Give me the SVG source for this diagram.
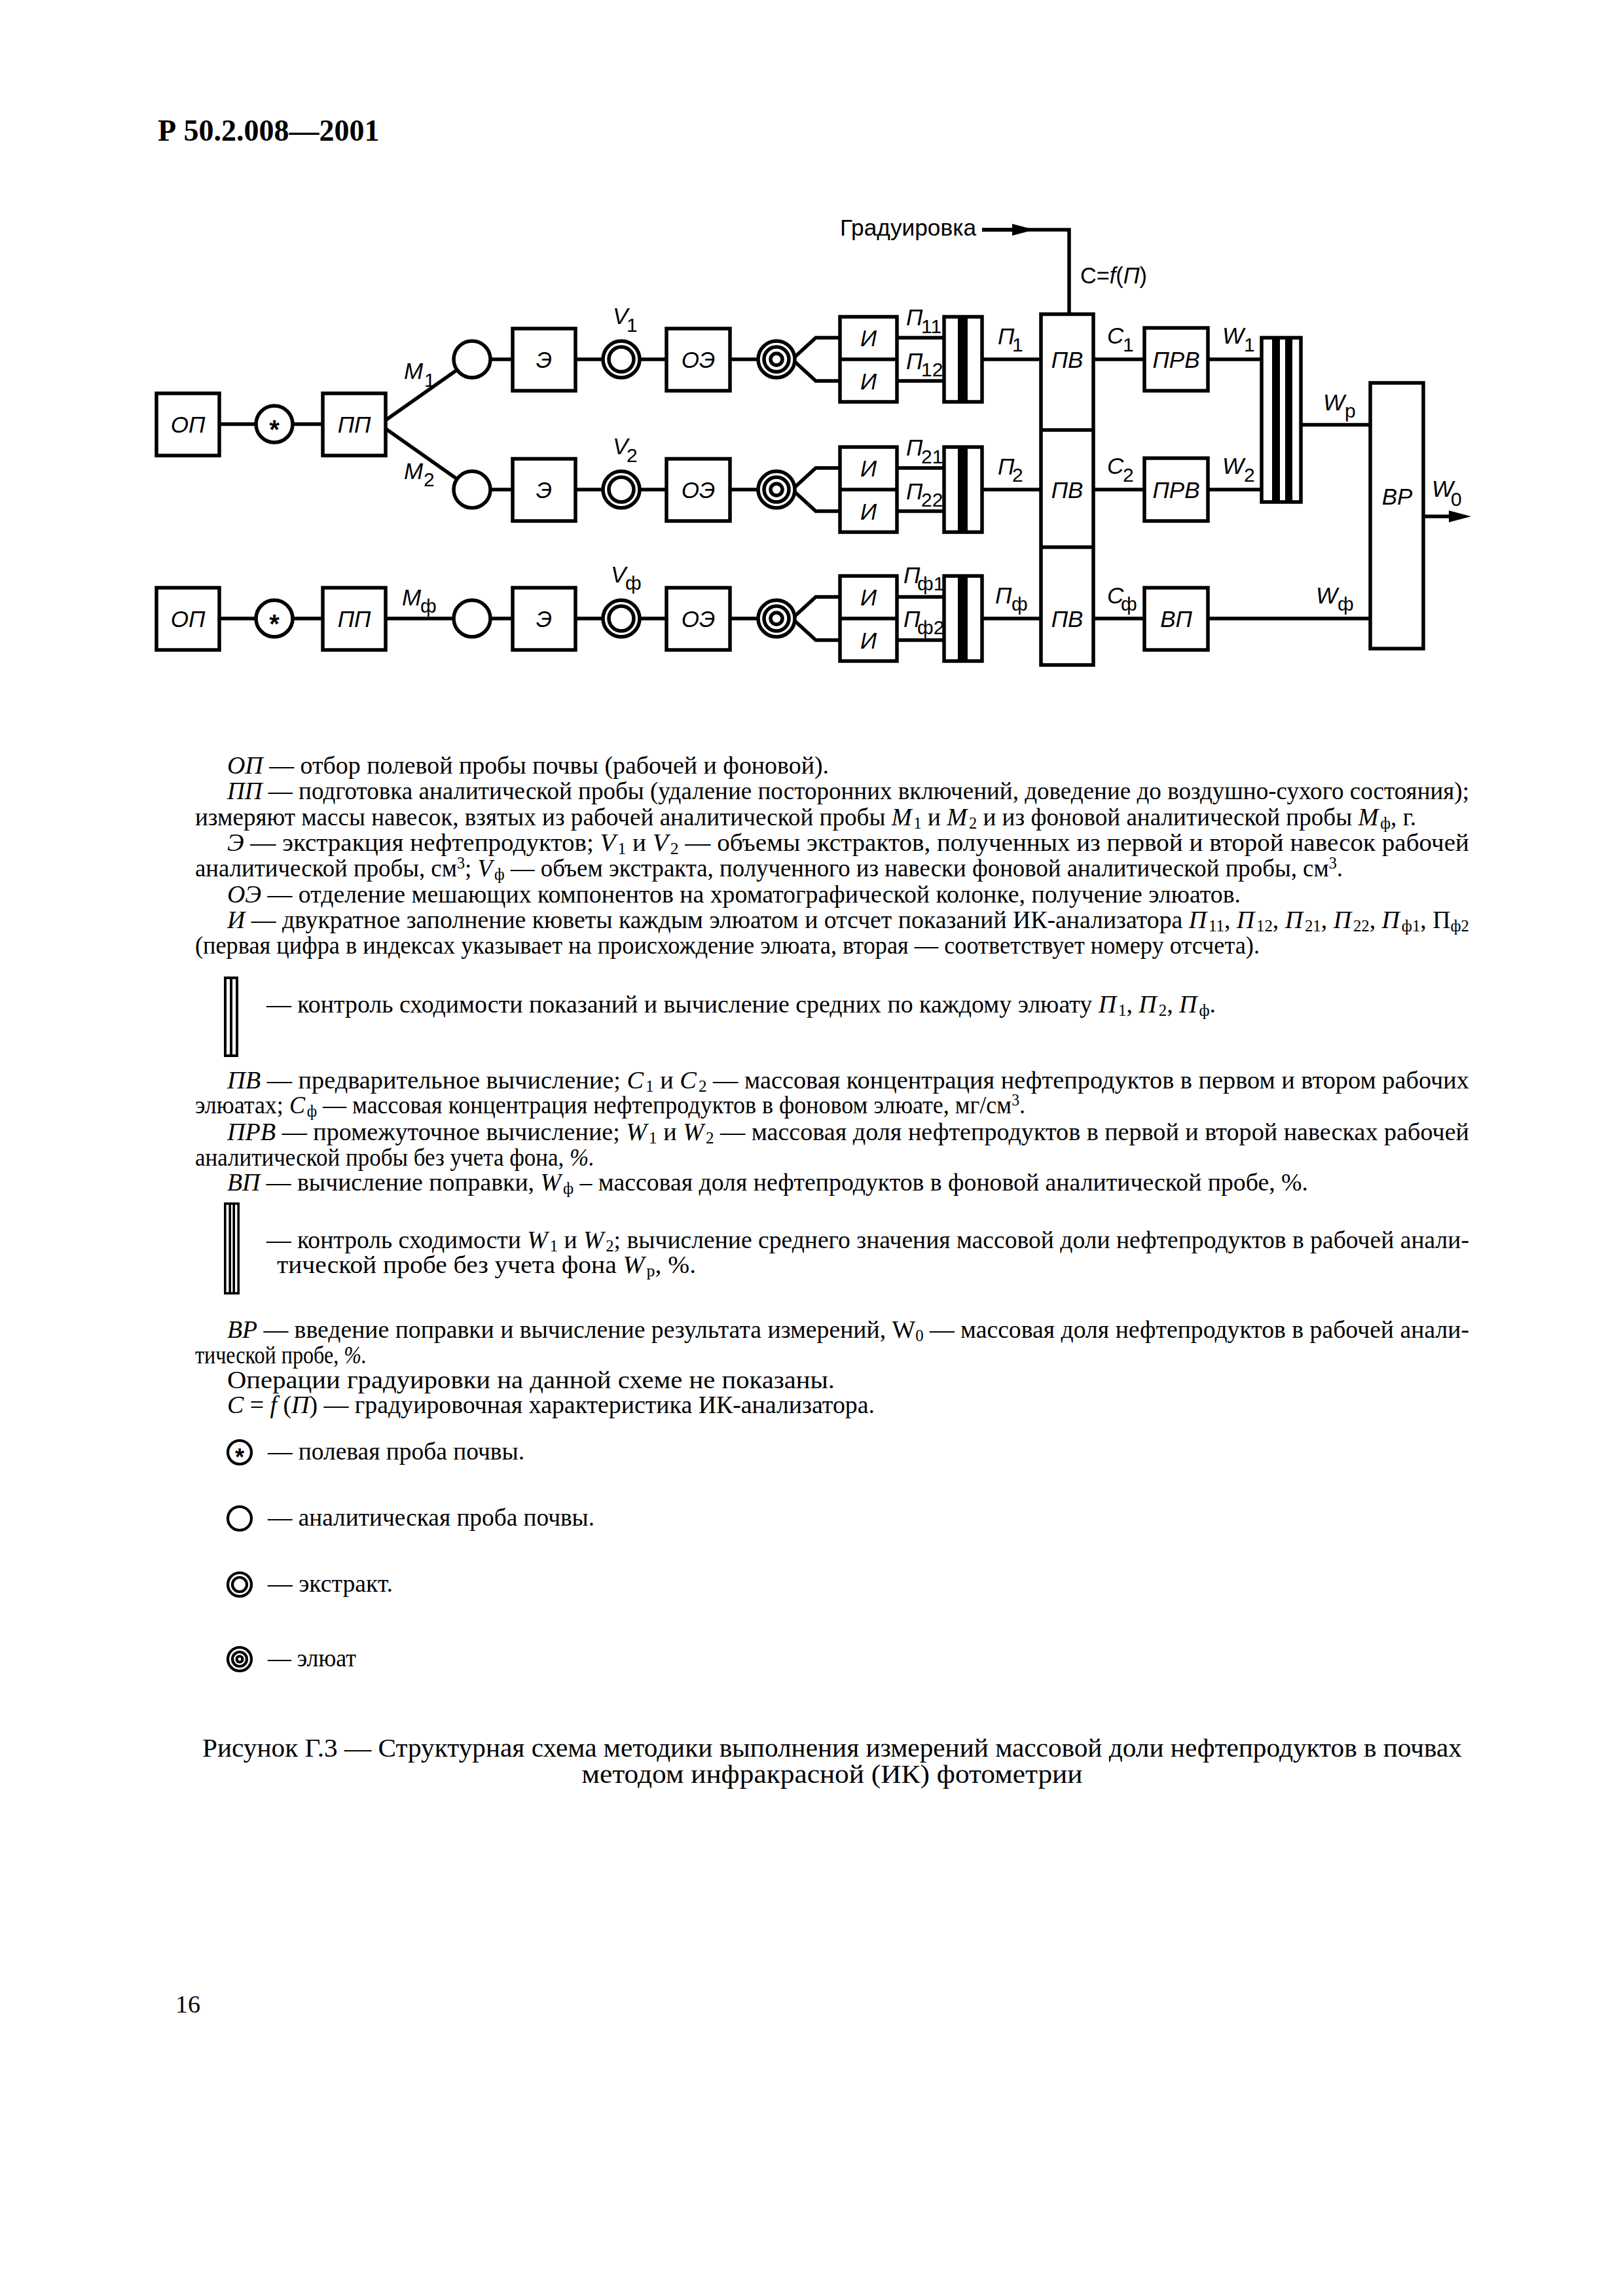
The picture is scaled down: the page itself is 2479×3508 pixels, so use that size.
<svg xmlns="http://www.w3.org/2000/svg" width="2479" height="3508" viewBox="0 0 2479 3508">
<style>
.bx{fill:#fff;stroke:#000;stroke-width:5.5}
.ln{fill:none;stroke:#000;stroke-width:5.5}
.ci{fill:#fff;stroke:#000;stroke-width:5.5}
.cn{fill:none;stroke:#000;stroke-width:5.5}
.bk{fill:#000}
.nt{font-family:"Liberation Sans",Arial,sans-serif;font-size:35px;font-style:italic;text-anchor:middle;fill:#000}
.st{font-family:"Liberation Sans",Arial,sans-serif;font-size:40px;font-weight:bold;text-anchor:middle;fill:#000}
.lb{font-family:"Liberation Sans",Arial,sans-serif;font-size:35px;font-style:italic;fill:#000}
.ls{font-style:normal;font-size:30px}
.up{font-style:normal}
.tx{font-family:"Liberation Serif","Times New Roman",serif;font-size:38px;fill:#000}
.cap{font-family:"Liberation Serif","Times New Roman",serif;font-size:40px;fill:#000;text-anchor:middle}
.i{font-style:italic}
.sb{font-size:25px;font-style:normal}
.lg{fill:#fff;stroke:#000;stroke-width:4.2}
.lgn{fill:none;stroke:#000;stroke-width:4.2}
</style>
<defs>
<marker id="arr" viewBox="0 0 34 18" refX="16" refY="9" markerWidth="34" markerHeight="18" markerUnits="userSpaceOnUse" orient="auto"><path d="M0,0 L34,9 L0,18 Z" fill="#000"/></marker>
</defs>
<rect width="2479" height="3508" fill="#fff"/>

<text x="241" y="215" style="font-family:'Liberation Serif','Times New Roman',serif;font-size:46px;font-weight:bold">Р 50.2.008—2001</text>

<!-- connectors -->
<g id="connectors">
<line class="ln" x1="335" y1="648" x2="391" y2="648"/>
<line class="ln" x1="447" y1="648" x2="493" y2="648"/>
<line class="ln" x1="589" y1="642" x2="721" y2="549"/>
<line class="ln" x1="589" y1="655" x2="721" y2="748"/>
<line class="ln" x1="335" y1="945" x2="391" y2="945"/>
<line class="ln" x1="447" y1="945" x2="493" y2="945"/>
<line class="ln" x1="589" y1="945" x2="721" y2="945"/>
<line class="ln" x1="721" y1="549" x2="783" y2="549"/>
<line class="ln" x1="721" y1="748" x2="783" y2="748"/>
<line class="ln" x1="721" y1="945" x2="783" y2="945"/>
<line class="ln" x1="879" y1="549" x2="1018" y2="549"/>
<line class="ln" x1="879" y1="748" x2="1018" y2="748"/>
<line class="ln" x1="879" y1="945" x2="1018" y2="945"/>
<line class="ln" x1="1115" y1="549" x2="1186" y2="549"/>
<line class="ln" x1="1115" y1="748" x2="1186" y2="748"/>
<line class="ln" x1="1115" y1="945" x2="1186" y2="945"/>
<polyline class="ln" points="1210,549 1246,516 1283,516"/>
<polyline class="ln" points="1210,549 1246,582 1283,582"/>
<polyline class="ln" points="1210,748 1246,715 1283,715"/>
<polyline class="ln" points="1210,748 1246,781 1283,781"/>
<polyline class="ln" points="1210,945 1246,912 1283,912"/>
<polyline class="ln" points="1210,945 1246,978 1283,978"/>
<line class="ln" x1="1370" y1="516" x2="1442" y2="516"/>
<line class="ln" x1="1370" y1="582" x2="1442" y2="582"/>
<line class="ln" x1="1370" y1="715" x2="1442" y2="715"/>
<line class="ln" x1="1370" y1="781" x2="1442" y2="781"/>
<line class="ln" x1="1370" y1="912" x2="1442" y2="912"/>
<line class="ln" x1="1370" y1="978" x2="1442" y2="978"/>
<line class="ln" x1="1500" y1="549" x2="1590" y2="549"/>
<line class="ln" x1="1500" y1="748" x2="1590" y2="748"/>
<line class="ln" x1="1500" y1="945" x2="1590" y2="945"/>
<polyline class="ln" points="1500,351 1633,351 1633,480"/>
<line class="ln" x1="1500" y1="351" x2="1562" y2="351" marker-end="url(#arr)"/>
<line class="ln" x1="1670" y1="549" x2="1748" y2="549"/>
<line class="ln" x1="1670" y1="748" x2="1748" y2="748"/>
<line class="ln" x1="1670" y1="945" x2="1748" y2="945"/>
<line class="ln" x1="1845" y1="549" x2="1927" y2="549"/>
<line class="ln" x1="1845" y1="748" x2="1927" y2="748"/>
<line class="ln" x1="1987" y1="649" x2="2093" y2="649"/>
<line class="ln" x1="1845" y1="945" x2="2093" y2="945"/>
<line class="ln" x1="2174" y1="789" x2="2229" y2="789" marker-end="url(#arr)"/>
</g>

<!-- nodes -->
<g id="op1"><rect class="bx" x="239" y="601" width="96" height="95"/><text class="nt" x="287" y="661">ОП</text></g>
<g id="star1"><circle class="ci" cx="419" cy="648" r="28"/><text class="st" x="419" y="670">*</text></g>
<g id="pp1"><rect class="bx" x="493" y="601" width="96" height="95"/><text class="nt" x="541" y="661">ПП</text></g>
<g id="op3"><rect class="bx" x="239" y="898" width="96" height="95"/><text class="nt" x="287" y="958">ОП</text></g>
<g id="star3"><circle class="ci" cx="419" cy="945" r="28"/><text class="st" x="419" y="967">*</text></g>
<g id="pp3"><rect class="bx" x="493" y="898" width="96" height="95"/><text class="nt" x="541" y="958">ПП</text></g>

<g id="a1"><circle class="ci" cx="721" cy="549" r="28"/></g>
<g id="a2"><circle class="ci" cx="721" cy="748" r="28"/></g>
<g id="a3"><circle class="ci" cx="721" cy="945" r="28"/></g>

<g id="e1"><rect class="bx" x="783" y="502" width="96" height="95"/><text class="nt" x="831" y="562">Э</text></g>
<g id="e2"><rect class="bx" x="783" y="701" width="96" height="95"/><text class="nt" x="831" y="761">Э</text></g>
<g id="e3"><rect class="bx" x="783" y="898" width="96" height="95"/><text class="nt" x="831" y="958">Э</text></g>

<g id="v1"><circle class="ci" cx="949" cy="549" r="28"/><circle class="cn" cx="949" cy="549" r="19"/></g>
<g id="v2"><circle class="ci" cx="949" cy="748" r="28"/><circle class="cn" cx="949" cy="748" r="19"/></g>
<g id="v3"><circle class="ci" cx="949" cy="945" r="28"/><circle class="cn" cx="949" cy="945" r="19"/></g>

<g id="oe1"><rect class="bx" x="1018" y="502" width="97" height="95"/><text class="nt" x="1066.5" y="562">ОЭ</text></g>
<g id="oe2"><rect class="bx" x="1018" y="701" width="97" height="95"/><text class="nt" x="1066.5" y="761">ОЭ</text></g>
<g id="oe3"><rect class="bx" x="1018" y="898" width="97" height="95"/><text class="nt" x="1066.5" y="958">ОЭ</text></g>

<g id="el1"><circle class="ci" cx="1186" cy="549" r="28"/><circle class="cn" cx="1186" cy="549" r="19"/><circle class="cn" cx="1186" cy="549" r="9"/></g>
<g id="el2"><circle class="ci" cx="1186" cy="748" r="28"/><circle class="cn" cx="1186" cy="748" r="19"/><circle class="cn" cx="1186" cy="748" r="9"/></g>
<g id="el3"><circle class="ci" cx="1186" cy="945" r="28"/><circle class="cn" cx="1186" cy="945" r="19"/><circle class="cn" cx="1186" cy="945" r="9"/></g>

<g id="i1"><rect class="bx" x="1283" y="484" width="87" height="130"/><line class="ln" x1="1283" y1="549" x2="1370" y2="549"/><text class="nt" x="1326.5" y="529">И</text><text class="nt" x="1326.5" y="595">И</text></g>
<g id="i2"><rect class="bx" x="1283" y="683" width="87" height="130"/><line class="ln" x1="1283" y1="748" x2="1370" y2="748"/><text class="nt" x="1326.5" y="728">И</text><text class="nt" x="1326.5" y="794">И</text></g>
<g id="i3"><rect class="bx" x="1283" y="880" width="87" height="130"/><line class="ln" x1="1283" y1="945" x2="1370" y2="945"/><text class="nt" x="1326.5" y="925">И</text><text class="nt" x="1326.5" y="991">И</text></g>

<g id="b1"><rect class="bx" x="1442" y="484" width="58" height="130"/><rect class="bk" x="1463" y="484" width="15" height="130"/></g>
<g id="b2"><rect class="bx" x="1442" y="683" width="58" height="130"/><rect class="bk" x="1463" y="683" width="15" height="130"/></g>
<g id="b3"><rect class="bx" x="1442" y="880" width="58" height="130"/><rect class="bk" x="1463" y="880" width="15" height="130"/></g>

<g id="pv"><rect class="bx" x="1590" y="480" width="80" height="536"/><line class="ln" x1="1590" y1="657" x2="1670" y2="657"/><line class="ln" x1="1590" y1="836" x2="1670" y2="836"/><text class="nt" x="1630" y="562">ПВ</text><text class="nt" x="1630" y="761">ПВ</text><text class="nt" x="1630" y="958">ПВ</text></g>

<g id="prv1"><rect class="bx" x="1748" y="501" width="97" height="96"/><text class="nt" x="1796.5" y="562">ПРВ</text></g>
<g id="prv2"><rect class="bx" x="1748" y="700" width="97" height="96"/><text class="nt" x="1796.5" y="761">ПРВ</text></g>
<g id="vp"><rect class="bx" x="1748" y="898" width="97" height="95"/><text class="nt" x="1796.5" y="958">ВП</text></g>

<g id="q"><rect class="bx" x="1927" y="516" width="60" height="251"/><rect class="bk" x="1943" y="516" width="12" height="251"/><rect class="bk" x="1963" y="516" width="11" height="251"/></g>

<g id="vr"><rect class="bx" x="2093" y="585" width="81" height="406"/><text class="nt" x="2134" y="771">ВР</text></g>

<!-- diagram labels -->
<g id="labels">
<text class="lb" x="1283" y="360" style="font-style:normal" textLength="208" lengthAdjust="spacingAndGlyphs">Градуировка</text>
<text class="lb" x="1650" y="433" textLength="102" lengthAdjust="spacingAndGlyphs"><tspan class="up">C=</tspan>f<tspan class="up">(</tspan>П<tspan class="up">)</tspan></text>
<text class="lb"><tspan x="617" y="579">M</tspan><tspan class="ls" x="648" y="591">1</tspan></text>
<text class="lb"><tspan x="617" y="732">M</tspan><tspan class="ls" x="647" y="743">2</tspan></text>
<text class="lb"><tspan x="614" y="925">M</tspan><tspan class="ls" x="642" y="936">ф</tspan></text>
<text class="lb"><tspan x="936" y="495">V</tspan><tspan class="ls" x="957" y="507">1</tspan></text>
<text class="lb"><tspan x="936" y="694">V</tspan><tspan class="ls" x="957" y="706">2</tspan></text>
<text class="lb"><tspan x="933" y="890">V</tspan><tspan class="ls" x="955" y="901">ф</tspan></text>
<text class="lb"><tspan x="1384" y="497">П</tspan><tspan class="ls" x="1407" y="509">11</tspan></text>
<text class="lb"><tspan x="1384" y="564">П</tspan><tspan class="ls" x="1407" y="575">12</tspan></text>
<text class="lb"><tspan x="1384" y="696">П</tspan><tspan class="ls" x="1407" y="708">21</tspan></text>
<text class="lb"><tspan x="1384" y="763">П</tspan><tspan class="ls" x="1407" y="774">22</tspan></text>
<text class="lb"><tspan x="1380" y="891">П</tspan><tspan class="ls" x="1401" y="902">ф1</tspan></text>
<text class="lb"><tspan x="1380" y="958">П</tspan><tspan class="ls" x="1401" y="969">ф2</tspan></text>
<text class="lb"><tspan x="1524" y="526">П</tspan><tspan class="ls" x="1546" y="537">1</tspan></text>
<text class="lb"><tspan x="1524" y="725">П</tspan><tspan class="ls" x="1546" y="736">2</tspan></text>
<text class="lb"><tspan x="1520" y="922">П</tspan><tspan class="ls" x="1545" y="933">ф</tspan></text>
<text class="lb"><tspan x="1691" y="525">C</tspan><tspan class="ls" x="1715" y="537">1</tspan></text>
<text class="lb"><tspan x="1691" y="724">C</tspan><tspan class="ls" x="1715" y="736">2</tspan></text>
<text class="lb"><tspan x="1691" y="922">C</tspan><tspan class="ls" x="1712" y="933">ф</tspan></text>
<text class="lb"><tspan x="1867" y="525">W</tspan><tspan class="ls" x="1900" y="537">1</tspan></text>
<text class="lb"><tspan x="1867" y="724">W</tspan><tspan class="ls" x="1900" y="736">2</tspan></text>
<text class="lb"><tspan x="2021" y="627">W</tspan><tspan class="ls" x="2054" y="638">р</tspan></text>
<text class="lb"><tspan x="2010" y="922">W</tspan><tspan class="ls" x="2043" y="933">ф</tspan></text>
<text class="lb"><tspan x="2187" y="759">W</tspan><tspan class="ls" x="2216" y="773">0</tspan></text>
</g>

<!-- explanatory text -->
<g id="text">
<text class="tx" x="347" y="1182" textLength="919" lengthAdjust="spacingAndGlyphs"><tspan class="i">ОП</tspan> — отбор полевой пробы почвы (рабочей и фоновой).</text>
<text class="tx" x="347" y="1221" textLength="1897" lengthAdjust="spacingAndGlyphs"><tspan class="i">ПП</tspan> — подготовка аналитической пробы (удаление посторонних включений, доведение до воздушно-сухого состояния);</text>
<text class="tx" x="298" y="1261" textLength="1865" lengthAdjust="spacingAndGlyphs">измеряют массы навесок, взятых из рабочей аналитической пробы <tspan class="i">M</tspan><tspan class="sb" dx="3" dy="5">1</tspan><tspan dy="-5"> и </tspan><tspan class="i">M</tspan><tspan class="sb" dx="3" dy="5">2</tspan><tspan dy="-5"> и из фоновой аналитической пробы </tspan><tspan class="i">M</tspan><tspan class="sb" dx="3" dy="5">ф</tspan><tspan dy="-5">, г.</tspan></text>
<text class="tx" x="347" y="1300" textLength="1897" lengthAdjust="spacingAndGlyphs"><tspan class="i">Э</tspan> — экстракция нефтепродуктов; <tspan class="i">V</tspan><tspan class="sb" dx="3" dy="5">1</tspan><tspan dy="-5"> и </tspan><tspan class="i">V</tspan><tspan class="sb" dx="3" dy="5">2</tspan><tspan dy="-5"> — объемы экстрактов, полученных из первой и второй навесок рабочей</tspan></text>
<text class="tx" x="298" y="1339" textLength="1753" lengthAdjust="spacingAndGlyphs">аналитической пробы, см<tspan class="sb" dy="-12">3</tspan><tspan dy="12">; </tspan><tspan class="i">V</tspan><tspan class="sb" dx="3" dy="5">ф</tspan><tspan dy="-5"> — объем экстракта, полученного из навески фоновой аналитической пробы, см</tspan><tspan class="sb" dy="-12">3</tspan><tspan dy="12">.</tspan></text>
<text class="tx" x="347" y="1379" textLength="1548" lengthAdjust="spacingAndGlyphs"><tspan class="i">ОЭ</tspan> — отделение мешающих компонентов на хроматографической колонке, получение элюатов.</text>
<text class="tx" x="347" y="1418" textLength="1897" lengthAdjust="spacingAndGlyphs"><tspan class="i">И</tspan> — двукратное заполнение кюветы каждым элюатом и отсчет показаний ИК-анализатора <tspan class="i">П</tspan><tspan class="sb" dx="3" dy="5">11</tspan><tspan dy="-5">, </tspan><tspan class="i">П</tspan><tspan class="sb" dx="3" dy="5">12</tspan><tspan dy="-5">, </tspan><tspan class="i">П</tspan><tspan class="sb" dx="3" dy="5">21</tspan><tspan dy="-5">, </tspan><tspan class="i">П</tspan><tspan class="sb" dx="3" dy="5">22</tspan><tspan dy="-5">, </tspan><tspan class="i">П</tspan><tspan class="sb" dx="3" dy="5">ф1</tspan><tspan dy="-5">, П</tspan><tspan class="sb" dy="5">ф2</tspan></text>
<text class="tx" x="298" y="1457" textLength="1626" lengthAdjust="spacingAndGlyphs">(первая цифра в индексах указывает на происхождение элюата, вторая — соответствует номеру отсчета).</text>

<text class="tx" x="407" y="1547" textLength="1450" lengthAdjust="spacingAndGlyphs">— контроль сходимости показаний и вычисление средних по каждому элюату <tspan class="i">П</tspan><tspan class="sb" dx="3" dy="5">1</tspan><tspan dy="-5">, </tspan><tspan class="i">П</tspan><tspan class="sb" dx="3" dy="5">2</tspan><tspan dy="-5">, </tspan><tspan class="i">П</tspan><tspan class="sb" dx="3" dy="5">ф</tspan><tspan dy="-5">.</tspan></text>

<text class="tx" x="347" y="1663" textLength="1897" lengthAdjust="spacingAndGlyphs"><tspan class="i">ПВ</tspan> — предварительное вычисление; <tspan class="i">C</tspan><tspan class="sb" dx="3" dy="5">1</tspan><tspan dy="-5"> и </tspan><tspan class="i">C</tspan><tspan class="sb" dx="3" dy="5">2</tspan><tspan dy="-5"> — массовая концентрация нефтепродуктов в первом и втором рабочих</tspan></text>
<text class="tx" x="298" y="1701" textLength="1268" lengthAdjust="spacingAndGlyphs">элюатах; <tspan class="i">C</tspan><tspan class="sb" dx="3" dy="5">ф</tspan><tspan dy="-5"> — массовая концентрация нефтепродуктов в фоновом элюате, мг/см</tspan><tspan class="sb" dy="-12">3</tspan><tspan dy="12">.</tspan></text>
<text class="tx" x="347" y="1742" textLength="1897" lengthAdjust="spacingAndGlyphs"><tspan class="i">ПРВ</tspan> — промежуточное вычисление; <tspan class="i">W</tspan><tspan class="sb" dx="3" dy="5">1</tspan><tspan dy="-5"> и </tspan><tspan class="i">W</tspan><tspan class="sb" dx="3" dy="5">2</tspan><tspan dy="-5"> — массовая доля нефтепродуктов в первой и второй навесках рабочей</tspan></text>
<text class="tx" x="298" y="1781" textLength="610" lengthAdjust="spacingAndGlyphs">аналитической пробы без учета фона, <tspan class="i">%.</tspan></text>
<text class="tx" x="347" y="1819" textLength="1651" lengthAdjust="spacingAndGlyphs"><tspan class="i">ВП</tspan> — вычисление поправки, <tspan class="i">W</tspan><tspan class="sb" dx="3" dy="5">ф</tspan><tspan dy="-5"> – массовая доля нефтепродуктов в фоновой аналитической пробе, %.</tspan></text>

<text class="tx" x="407" y="1907" textLength="1837" lengthAdjust="spacingAndGlyphs">— контроль сходимости <tspan class="i">W</tspan><tspan class="sb" dx="3" dy="5">1</tspan><tspan dy="-5"> и </tspan><tspan class="i">W</tspan><tspan class="sb" dx="3" dy="5">2</tspan><tspan dy="-5">; вычисление среднего значения массовой доли нефтепродуктов в рабочей анали-</tspan></text>
<text class="tx" x="423" y="1945" textLength="640" lengthAdjust="spacingAndGlyphs">тической пробе без учета фона <tspan class="i">W</tspan><tspan class="sb" dx="3" dy="5">р</tspan><tspan dy="-5">, %.</tspan></text>

<text class="tx" x="347" y="2044" textLength="1897" lengthAdjust="spacingAndGlyphs"><tspan class="i">ВР</tspan> — введение поправки и вычисление результата измерений, W<tspan class="sb" dy="5">0</tspan><tspan dy="-5"> — массовая доля нефтепродуктов в рабочей анали-</tspan></text>
<text class="tx" x="298" y="2083" textLength="262" lengthAdjust="spacingAndGlyphs">тической пробе, <tspan class="i">%.</tspan></text>
<text class="tx" x="347" y="2121" textLength="928" lengthAdjust="spacingAndGlyphs">Операции градуировки на данной схеме не показаны.</text>
<text class="tx" x="347" y="2159" textLength="989" lengthAdjust="spacingAndGlyphs"><tspan class="i">C</tspan> = <tspan class="i">f</tspan> (<tspan class="i">П</tspan>) — градуировочная характеристика ИК-анализатора.</text>
</g>

<!-- legend symbols -->
<g id="sym-double"><rect class="lgn" x="344" y="1494" width="18" height="119" style="stroke-width:4"/><line class="lgn" x1="353" y1="1494" x2="353" y2="1613" style="stroke-width:4"/></g>
<g id="sym-quad"><rect class="lgn" x="343.8" y="1839" width="20.4" height="137" style="stroke-width:3.6"/><rect class="bk" x="349.4" y="1839" width="3.6" height="137"/><rect class="bk" x="355.4" y="1839" width="3.6" height="137"/></g>

<g id="leg-star"><circle class="lg" cx="366" cy="2219" r="18"/><text class="st" x="366" y="2239" style="font-size:36px">*</text></g>
<g id="leg-circle"><circle class="lg" cx="366" cy="2320" r="18"/></g>
<g id="leg-extract"><circle class="lg" cx="366" cy="2421" r="18"/><circle class="lgn" cx="366" cy="2421" r="11"/></g>
<g id="leg-eluate"><circle class="lg" cx="366" cy="2535" r="18"/><circle class="lgn" cx="366" cy="2535" r="11"/><circle class="lgn" cx="366" cy="2535" r="4.5"/></g>
<g id="legend-text">
<text class="tx" x="409" y="2230" textLength="392" lengthAdjust="spacingAndGlyphs">— полевая проба почвы.</text>
<text class="tx" x="409" y="2331" textLength="499" lengthAdjust="spacingAndGlyphs">— аналитическая проба почвы.</text>
<text class="tx" x="409" y="2432" textLength="191" lengthAdjust="spacingAndGlyphs">— экстракт.</text>
<text class="tx" x="409" y="2546" textLength="135" lengthAdjust="spacingAndGlyphs">— элюат</text>
</g>

<g id="caption">
<text class="cap" x="1271" y="2684" textLength="1924" lengthAdjust="spacingAndGlyphs">Рисунок Г.3 — Структурная схема методики выполнения измерений массовой доли нефтепродуктов в почвах</text>
<text class="cap" x="1271" y="2724" textLength="765" lengthAdjust="spacingAndGlyphs">методом инфракрасной (ИК) фотометрии</text>
</g>
<text class="tx" x="268" y="3075">16</text>
</svg>
